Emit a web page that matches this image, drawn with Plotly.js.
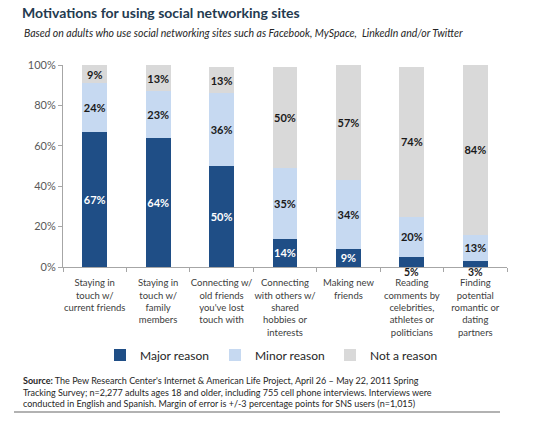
<!DOCTYPE html>
<html>
<head>
<meta charset="utf-8">
<script src="https://cdn.plot.ly/plotly-3.0.1.min.js"></script>
<style>html,body{margin:0;padding:0;background:#fff;}#chart{width:550px;height:433px;}</style>
</head>
<body>
<div id="chart"></div>
<script>
const categories = [
  "Staying in<br>touch w/<br>current friends",
  "Staying in<br>touch w/<br>family<br>members",
  "Connecting w/<br>old friends<br>you've lost<br>touch with",
  "Connecting<br>with others w/<br>shared<br>hobbies or<br>interests",
  "Making new<br>friends",
  "Reading<br>comments by<br>celebrities,<br>athletes or<br>politicians",
  "Finding<br>potential<br>romantic or<br>dating<br>partners"
];
const majorReason = [67, 64, 50, 14, 9, 5, 3];
const minorReason = [24, 23, 36, 35, 34, 20, 13];
const notAReason = [9, 13, 13, 50, 57, 74, 84];
const yTickVals = [0, 20, 40, 60, 80, 100];
const yTickText = ["0%", "20%", "40%", "60%", "80%", "100%"];

const FONT = "Lato, 'Liberation Sans', sans-serif";
const SMALL = 6;

function barTrace(name, values, color, textColor, hideSmall) {
  return {
    type: 'bar', name: name, x: categories, y: values,
    marker: {color: color},
    text: values.map(v => v + '%'),
    textposition: values.map(v => (hideSmall && v < SMALL) ? 'none' : 'inside'),
    insidetextanchor: 'middle',
    textangle: 0,
    constraintext: 'none',
    insidetextfont: {family: FONT, size: 11, color: textColor, weight: 'bold'},
    hoverinfo: 'none'
  };
}

const data = [
  barTrace('Major reason', majorReason, '#1f4e86', '#ffffff', true),
  barTrace('Minor reason', minorReason, '#c6d9f1', '#1a1a1a', false),
  barTrace('Not a reason', notAReason, '#d9d9d9', '#1a1a1a', false)
];

const smallAnn = [];
majorReason.forEach((v, i) => {
  if (v < SMALL) {
    smallAnn.push({x: categories[i], y: 0, xref: 'x', yref: 'y', text: v + '%',
      showarrow: false, yanchor: 'middle', yshift: -5,
      font: {family: FONT, size: 10.5, color: '#1a1a1a', weight: 'bold'}});
  }
});

const PL = 63, PR = 507, PT = 65, PB = 267;
const pw = PR - PL, ph = PB - PT;
const px = x => (x - PL) / pw;
const py = y => (PB - y) / ph;

const layout = {
  width: 550, height: 433,
  margin: {l: PL, r: 550 - PR, t: PT, b: 433 - PB},
  paper_bgcolor: '#ffffff', plot_bgcolor: '#ffffff',
  barmode: 'stack', bargap: 0.61,
  font: {family: FONT, color: '#404040'},
  title: {text: 'Motivations for using social networking sites',
    x: 22/550, xref: 'container', xanchor: 'left',
    y: 1 - 13/433, yref: 'container', yanchor: 'middle',
    font: {family: FONT, size: 14, color: '#243a4f', weight: 'bold'}},
  xaxis: {type: 'category', showline: true, linecolor: '#a6a6a6', linewidth: 1,
    ticks: 'outside', tickson: 'boundaries', ticklen: 4, tickcolor: '#a6a6a6',
    tickangle: 0, automargin: false, ticklabelstandoff: 7,
    tickfont: {family: FONT, size: 9.5, color: '#404040'}, showgrid: false, fixedrange: true},
  yaxis: {range: [0, 100], tickvals: yTickVals, ticktext: yTickText,
    showline: true, linecolor: '#a6a6a6', linewidth: 1, ticks: 'outside', ticklen: 4,
    tickcolor: '#a6a6a6', showgrid: false, zeroline: false,
    tickfont: {family: FONT, size: 11, color: '#595959'}, fixedrange: true},
  showlegend: true,
  legend: {orientation: 'h', x: px(100), xanchor: 'left', y: py(355), yanchor: 'middle',
    font: {family: FONT, size: 12, color: '#262626'}, traceorder: 'normal',
    itemwidth: 30, entrywidth: 70, entrywidthmode: 'pixels', bgcolor: 'rgba(0,0,0,0)'},
  annotations: smallAnn.concat([
    {xref: 'paper', yref: 'paper', x: px(22), y: py(33), xanchor: 'left', yanchor: 'middle',
      showarrow: false, align: 'left',
      text: '<i>Based on adults who use social networking sites such as Facebook, MySpace,  LinkedIn and/or Twitter</i>',
      font: {family: FONT, size: 10.5, color: '#262626'}},
    {xref: 'paper', yref: 'paper', x: px(21), y: py(373), xanchor: 'left', yanchor: 'top',
      showarrow: false, align: 'left',
      text: '<b>Source:</b> The Pew Research Center\'s Internet &amp; American Life Project, April 26 – May 22, 2011 Spring<br>Tracking Survey; n=2,277 adults ages 18 and older, including 755 cell phone interviews. Interviews were<br>conducted in English and Spanish. Margin of error is +/-3 percentage points for SNS users (n=1,015)',
      font: {family: FONT, size: 9, color: '#262626'}}
  ]),
  shapes: [
    {type: 'line', xref: 'paper', yref: 'paper', x0: px(14), x1: px(500), y0: py(412), y1: py(412),
      line: {color: '#666666', width: 1.2}}
  ]
};

Plotly.newPlot('chart', data, layout, {displayModeBar: false, staticPlot: true});
</script>
</body>
</html>
